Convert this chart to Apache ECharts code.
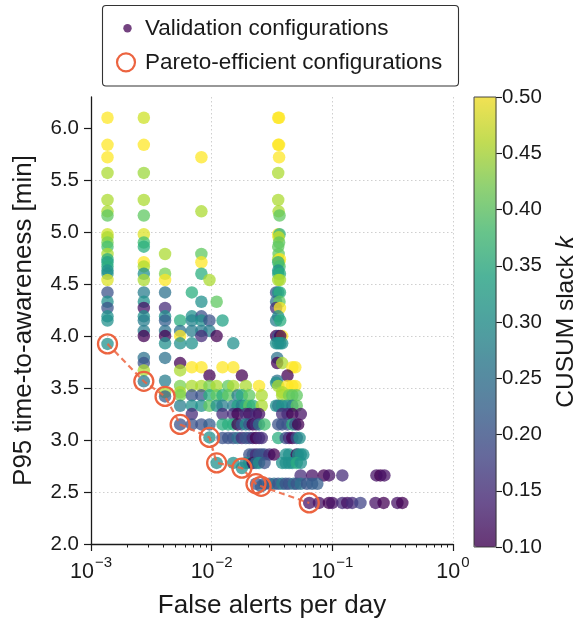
<!DOCTYPE html>
<html>
<head>
<meta charset="utf-8">
<script src="https://cdn.jsdelivr.net/npm/echarts@6/dist/echarts.min.js"></script>
<style>
  html, body { margin: 0; padding: 0; background: #ffffff; }
  #chart { width: 580px; height: 624px; }
</style>
</head>
<body>
<div id="chart"></div>
<script>
// Axis ticks
const xTickValues = [0.001, 0.01, 0.1, 1];
const xMinorTicks = [0.002, 0.003, 0.004, 0.005, 0.006, 0.007, 0.008, 0.009,
                     0.02, 0.03, 0.04, 0.05, 0.06, 0.07, 0.08, 0.09,
                     0.2, 0.3, 0.4, 0.5, 0.6, 0.7, 0.8, 0.9];
const yTickValues = [2.0, 2.5, 3.0, 3.5, 4.0, 4.5, 5.0, 5.5, 6.0];
const kTickValues = [0.10, 0.15, 0.20, 0.25, 0.30, 0.35, 0.40, 0.45, 0.50];

// Validation configurations, grouped by P95 time-to-awareness [min]:
// each row is [minutes, [[false alerts per day, CUSUM slack k], ...]]
const upperRows = [
  [6.10, [[0.00137, 0.50], [0.00274, 0.47], [0.0356, 0.50], [0.0362, 0.50]]],
  [5.84, [[0.00137, 0.50], [0.00274, 0.50], [0.0356, 0.50], [0.0362, 0.50]]],
  [5.72, [[0.00137, 0.50], [0.00822, 0.50], [0.0362, 0.50]]],
  [5.57, [[0.00137, 0.45], [0.00274, 0.44], [0.0356, 0.45]]],
  [5.31, [[0.00137, 0.45], [0.00274, 0.45], [0.0356, 0.45]]],
  [5.20, [[0.00137, 0.45], [0.00822, 0.45], [0.0359, 0.45]]],
  [5.16, [[0.00137, 0.40], [0.00274, 0.40], [0.0365, 0.40]]],
  [4.98, [[0.00137, 0.47], [0.00274, 0.48], [0.0356, 0.50], [0.0365, 0.35]]],
  [4.95, [[0.00137, 0.45], [0.0359, 0.47]]],
  [4.90, [[0.00137, 0.42], [0.00274, 0.38], [0.0362, 0.40]]],
  [4.86, [[0.00137, 0.38], [0.00274, 0.35], [0.0356, 0.40]]],
  [4.79, [[0.00137, 0.45], [0.00411, 0.45], [0.00822, 0.40], [0.0359, 0.40]]],
  [4.74, [[0.00137, 0.35], [0.0356, 0.45], [0.0368, 0.50]]],
  [4.71, [[0.00137, 0.33], [0.00274, 0.50], [0.00822, 0.50], [0.0362, 0.50], [0.0356, 0.35]]],
  [4.67, [[0.00137, 0.35], [0.00274, 0.45], [0.0365, 0.38]]],
  [4.63, [[0.00137, 0.30], [0.0356, 0.30]]],
  [4.60, [[0.00137, 0.30], [0.00274, 0.30], [0.00411, 0.42], [0.00822, 0.35], [0.0356, 0.33], [0.0368, 0.35]]],
  [4.54, [[0.00137, 0.48], [0.00274, 0.45], [0.00411, 0.50], [0.00959, 0.45], [0.0356, 0.45], [0.0368, 0.45]]],
  [4.42, [[0.00137, 0.20], [0.00274, 0.27], [0.00411, 0.25], [0.00685, 0.35], [0.0342, 0.20], [0.0356, 0.30], [0.0368, 0.35]]],
  [4.33, [[0.00137, 0.30], [0.00274, 0.30], [0.00822, 0.30], [0.0110, 0.40], [0.0342, 0.25], [0.0365, 0.40]]],
  [4.27, [[0.00137, 0.20], [0.00274, 0.12], [0.00411, 0.15], [0.0342, 0.15], [0.0368, 0.50]]],
  [4.19, [[0.00137, 0.30], [0.00274, 0.30], [0.00411, 0.30], [0.00685, 0.30], [0.00822, 0.20], [0.0356, 0.30]]],
  [4.15, [[0.00137, 0.30], [0.00274, 0.27], [0.00411, 0.22], [0.00548, 0.35], [0.00685, 0.28], [0.00822, 0.30],
          [0.00959, 0.20], [0.0123, 0.33], [0.0342, 0.27], [0.0370, 0.35]]]
];

const middleRows = [
  [4.05, [[0.00274, 0.27], [0.00411, 0.25], [0.00548, 0.25], [0.00685, 0.27], [0.00822, 0.27], [0.00959, 0.27]]],
  [4.00, [[0.00274, 0.10], [0.00411, 0.10], [0.00548, 0.50], [0.00822, 0.15], [0.0110, 0.10], [0.0342, 0.10],
          [0.0356, 0.20], [0.0384, 0.50], [0.0370, 0.10]]],
  [3.93, [[0.00411, 0.30], [0.00548, 0.30], [0.00685, 0.30], [0.0151, 0.30], [0.0342, 0.30], [0.0356, 0.30],
          [0.0370, 0.30], [0.0384, 0.30]]],
  [3.925, [[0.00137, 0.30]]],
  [3.79, [[0.00274, 0.25], [0.00411, 0.25], [0.0349, 0.25]]],
  [3.74, [[0.00274, 0.20], [0.00548, 0.10], [0.0349, 0.10], [0.0384, 0.45]]],
  [3.70, [[0.00685, 0.50], [0.00822, 0.50], [0.0123, 0.50], [0.0151, 0.50], [0.0466, 0.50], [0.0493, 0.50]]],
  [3.67, [[0.00274, 0.45], [0.00548, 0.45]]],
  [3.62, [[0.00959, 0.10], [0.0178, 0.10], [0.0425, 0.10]]],
  [3.57, [[0.00411, 0.27], [0.0349, 0.25]]],
  [3.565, [[0.00274, 0.26]]],
  [3.55, [[0.0342, 0.30]]],
  [3.52, [[0.00548, 0.42], [0.00685, 0.45], [0.00822, 0.45], [0.00959, 0.42], [0.0110, 0.45], [0.0137, 0.40],
          [0.0151, 0.45], [0.0192, 0.45], [0.0247, 0.50], [0.0356, 0.45], [0.0425, 0.50], [0.0466, 0.50], [0.0493, 0.50]]],
  [3.46, [[0.00411, 0.45], [0.00548, 0.45], [0.0384, 0.45]]],
  [3.42, [[0.00411, 0.22]]],
  [3.43, [[0.00548, 0.42], [0.00685, 0.20], [0.00822, 0.20], [0.00959, 0.35], [0.0110, 0.40], [0.0123, 0.35],
          [0.0137, 0.40], [0.0164, 0.27], [0.0178, 0.35], [0.0205, 0.40], [0.0260, 0.45], [0.0384, 0.45],
          [0.0438, 0.42], [0.0466, 0.40], [0.0507, 0.40]]],
  [3.33, [[0.00548, 0.27], [0.00685, 0.30], [0.00822, 0.30], [0.00959, 0.40], [0.0110, 0.30], [0.0123, 0.27],
          [0.0151, 0.27], [0.0164, 0.33], [0.0178, 0.27], [0.0192, 0.35], [0.0205, 0.40], [0.0219, 0.35],
          [0.0260, 0.45], [0.0342, 0.30], [0.0356, 0.27], [0.0384, 0.30], [0.0425, 0.30], [0.0466, 0.27], [0.0507, 0.40]]],
  [3.25, [[0.00685, 0.15], [0.0123, 0.15], [0.0151, 0.15], [0.0164, 0.10], [0.0192, 0.15], [0.0205, 0.12],
          [0.0233, 0.15], [0.0247, 0.12], [0.0384, 0.15], [0.0425, 0.15], [0.0466, 0.10], [0.0548, 0.12]]]
];

const lowerRows = [
  [3.15, [[0.00548, 0.20], [0.00685, 0.20], [0.00822, 0.20], [0.00959, 0.22], [0.0123, 0.35], [0.0137, 0.35],
          [0.0151, 0.35], [0.0164, 0.10], [0.0178, 0.20], [0.0192, 0.30], [0.0205, 0.20], [0.0219, 0.10],
          [0.0233, 0.15], [0.0247, 0.25], [0.0274, 0.38], [0.0356, 0.20], [0.0384, 0.20], [0.0425, 0.20],
          [0.0466, 0.35], [0.0493, 0.20], [0.0521, 0.10]]],
  [3.025, [[0.00959, 0.30]]],
  [3.02, [[0.0123, 0.20], [0.0137, 0.20], [0.0151, 0.20], [0.0164, 0.25], [0.0178, 0.15], [0.0192, 0.20],
          [0.0205, 0.20], [0.0219, 0.15], [0.0233, 0.10], [0.0247, 0.15], [0.0260, 0.15], [0.0356, 0.35],
          [0.0411, 0.20], [0.0438, 0.15], [0.0466, 0.10], [0.0507, 0.20], [0.0535, 0.30]]],
  [2.86, [[0.0205, 0.20], [0.0219, 0.20], [0.0233, 0.15], [0.0247, 0.20], [0.0260, 0.20], [0.0274, 0.20],
          [0.0301, 0.15], [0.0329, 0.10], [0.0411, 0.30], [0.0438, 0.30], [0.0507, 0.10], [0.0521, 0.30],
          [0.0548, 0.30], [0.0575, 0.30]]],
  [2.78, [[0.0110, 0.30], [0.0151, 0.30], [0.0192, 0.27], [0.0205, 0.30], [0.0219, 0.10], [0.0233, 0.25],
          [0.0247, 0.30], [0.0274, 0.20], [0.0384, 0.30], [0.0411, 0.30], [0.0438, 0.30], [0.0466, 0.30],
          [0.0507, 0.35], [0.0548, 0.30]]],
  [2.73, [[0.0178, 0.30]]],
  [2.66, [[0.0546, 0.15], [0.0680, 0.12], [0.0850, 0.10], [0.0940, 0.12], [0.1210, 0.15],
          [0.2320, 0.12], [0.2500, 0.10], [0.2700, 0.12]]],
  [2.58, [[0.0233, 0.20], [0.0274, 0.20], [0.0301, 0.20], [0.0329, 0.25], [0.0356, 0.20], [0.0384, 0.27],
          [0.0411, 0.20], [0.0438, 0.20], [0.0479, 0.25], [0.0507, 0.20], [0.0548, 0.25], [0.0616, 0.20],
          [0.0680, 0.22], [0.0751, 0.22]]],
  [2.555, [[0.0257, 0.22]]],
  [2.395, [[0.0644, 0.12], [0.0775, 0.12], [0.0937, 0.10], [0.1000, 0.12], [0.1210, 0.15], [0.1330, 0.12],
           [0.1460, 0.15], [0.1710, 0.18], [0.2280, 0.12], [0.2660, 0.10], [0.3460, 0.12], [0.3800, 0.10]]]
];

// Pareto-efficient configurations (false alerts per day, P95 minutes)
const paretoFront = [
  [0.00137, 3.925], [0.00274, 3.565], [0.00411, 3.42], [0.00548, 3.15], [0.00959, 3.025],
  [0.0110, 2.78], [0.0178, 2.73], [0.0233, 2.58], [0.0257, 2.555], [0.0644, 2.395]
];

// viridis, drawn with the scatter's transparency
const viridisStops = ['#440154', '#482475', '#414487', '#355f8d', '#2a788e', '#21918c',
                      '#22a884', '#44bf70', '#7ad151', '#bddf26', '#fde725'];
const ALPHA = 0.74;
function withAlpha(hex, a) {
  const n = parseInt(hex.slice(1), 16);
  return 'rgba(' + ((n >> 16) & 255) + ',' + ((n >> 8) & 255) + ',' + (n & 255) + ',' + a + ')';
}
const viridisRGBA = viridisStops.map(c => withAlpha(c, ALPHA));

const validationPoints = [];
[upperRows, middleRows, lowerRows].forEach(rows => {
  rows.forEach(([minutes, cells]) => {
    cells.forEach(([alerts, k]) => validationPoints.push([alerts, minutes, k]));
  });
});

const FONT = '"Liberation Sans", Arial, Helvetica, sans-serif';
const INK = '#1a1a1a';
const PARETO = '#ec6440';
const TICK_FS = 20.5;
const LABEL_FS = 26;
const CBAR_LABEL_FS = 24.5;
const LEGEND_FS = 22.5;
const gridLine = { show: true, lineStyle: { color: '#cfcfcf', width: 1, type: [1.5, 2.5] } };

const superscript = { '-3': '\u22123', '-2': '\u22122', '-1': '\u22121', '0': '0' };

const chart = echarts.init(document.getElementById('chart'), null, { renderer: 'canvas' });

chart.setOption({
  animation: false,
  backgroundColor: '#ffffff',
  textStyle: { fontFamily: FONT, color: INK },
  grid: [
    { left: 91, top: 97, width: 362, height: 450.5, containLabel: false },
    { left: 474, top: 97, width: 22.5, height: 450, containLabel: false,
      show: true, borderColor: '#333333', borderWidth: 0.9, backgroundColor: 'transparent', z: 10 }
  ],
  xAxis: [
    {
      type: 'log', logBase: 10, min: 0.001, max: 1, gridIndex: 0,
      axisLine: { show: true, onZero: false, lineStyle: { color: INK, width: 1.3 } },
      axisTick: { show: true, inside: false, length: 7, lineStyle: { color: INK, width: 1.2 },
                  customValues: xTickValues },
      axisLabel: {
        customValues: xTickValues,
        margin: 8, color: INK, fontFamily: FONT,
        formatter: v => '{b|10}{s|' + superscript[String(Math.round(Math.log10(v)))] + '}',
        rich: {
          b: { fontSize: 21.5, fontFamily: FONT, color: INK, padding: [9, 0, 0, 0] },
          s: { fontSize: 15, fontFamily: FONT, color: INK, padding: [0, 0, 10, 1] }
        }
      },
      splitLine: Object.assign({ showMinLine: false, showMaxLine: true }, gridLine),
      minorTick: { show: false },
      name: 'False alerts per day', nameLocation: 'middle', nameGap: 49,
      nameTextStyle: { fontSize: LABEL_FS, color: INK, fontFamily: FONT }
    },
    {
      type: 'log', logBase: 10, min: 0.001, max: 1, gridIndex: 0, position: 'bottom',
      axisLine: { show: false },
      axisTick: { show: true, inside: false, length: 3.5, lineStyle: { color: INK, width: 1 },
                  customValues: xMinorTicks },
      axisLabel: { show: false },
      splitLine: { show: false }
    },
    { type: 'category', gridIndex: 1, show: false, data: ['k'] }
  ],
  yAxis: [
    {
      type: 'value', min: 2.0, max: 6.3, interval: 0.5, gridIndex: 0,
      axisLine: { show: true, onZero: false, lineStyle: { color: INK, width: 1.3 } },
      axisTick: { show: true, inside: false, length: 7, lineStyle: { color: INK, width: 1.2 },
                  customValues: yTickValues },
      axisLabel: { customValues: yTickValues, margin: 12, fontSize: TICK_FS, color: INK, fontFamily: FONT,
                   formatter: v => v.toFixed(1) },
      splitLine: Object.assign({ showMinLine: false, showMaxLine: false }, gridLine),
      name: 'P95 time-to-awareness [min]', nameLocation: 'middle', nameGap: 54, nameRotate: 90,
      nameTextStyle: { fontSize: LABEL_FS, color: INK, fontFamily: FONT }
    },
    {
      type: 'value', min: 0.1, max: 0.5, interval: 0.05, gridIndex: 1, position: 'right',
      axisLine: { show: false },
      axisTick: { show: true, inside: false, length: 6, lineStyle: { color: INK, width: 1.1 },
                  customValues: kTickValues },
      axisLabel: { customValues: kTickValues, margin: 6, fontSize: TICK_FS, color: INK, fontFamily: FONT,
                   formatter: v => v.toFixed(2) },
      splitLine: { show: false },
      name: '{t|CUSUM slack }{i|k}', nameLocation: 'middle', nameGap: 58, nameRotate: 90,
      nameTextStyle: {
        fontSize: CBAR_LABEL_FS, color: INK, fontFamily: FONT,
        rich: {
          t: { fontSize: CBAR_LABEL_FS, color: INK, fontFamily: FONT },
          i: { fontSize: CBAR_LABEL_FS, color: INK, fontFamily: FONT, fontStyle: 'italic' }
        }
      }
    }
  ],
  visualMap: {
    type: 'continuous', min: 0.1, max: 0.5, dimension: 2, seriesIndex: 0,
    orient: 'vertical', left: 474, top: 97, itemWidth: 22.5, itemHeight: 450,
    padding: 0, calculable: false, hoverLink: false, realtime: false,
    text: null, showLabel: false,
    inRange: { color: viridisRGBA }
  },
  graphic: [
    {
      type: 'group', x: 0, y: 0, silent: true, z: 100,
      children: [
        { type: 'rect', shape: { x: 102.5, y: 5.5, width: 356, height: 80.5, r: 3.5 },
          style: { fill: '#ffffff', stroke: '#333333', lineWidth: 1.1 } },
        { type: 'circle', shape: { cx: 127.5, cy: 28.3, r: 4.2 },
          style: { fill: viridisRGBA[0] } },
        { type: 'text', x: 145, y: 28.3,
          style: { text: 'Validation configurations', fill: INK, font: LEGEND_FS + 'px ' + FONT,
                   verticalAlign: 'middle', align: 'left' } },
        { type: 'circle', shape: { cx: 126, cy: 62.3, r: 9 },
          style: { fill: 'none', stroke: PARETO, lineWidth: 2.2 } },
        { type: 'text', x: 145, y: 62.3,
          style: { text: 'Pareto-efficient configurations', fill: INK, font: LEGEND_FS + 'px ' + FONT,
                   verticalAlign: 'middle', align: 'left' } }
      ]
    }
  ],
  series: [
    {
      name: 'Validation configurations', type: 'scatter', xAxisIndex: 0, yAxisIndex: 0,
      data: validationPoints, symbol: 'circle', symbolSize: 12.5,
      itemStyle: { opacity: 1 }, emphasis: { disabled: true }, z: 2
    },
    {
      name: 'Pareto front', type: 'line', xAxisIndex: 0, yAxisIndex: 0,
      data: paretoFront, symbol: 'none', smooth: false,
      lineStyle: { color: PARETO, width: 2.2, type: [6, 4], opacity: 0.85 },
      emphasis: { disabled: true }, z: 3
    },
    {
      name: 'Pareto-efficient configurations', type: 'scatter', xAxisIndex: 0, yAxisIndex: 0,
      data: paretoFront, symbol: 'circle', symbolSize: 19,
      itemStyle: { color: 'rgba(0,0,0,0)', borderColor: PARETO, borderWidth: 2.3, opacity: 1 },
      emphasis: { disabled: true }, z: 4
    }
  ]
});
</script>
</body>
</html>
